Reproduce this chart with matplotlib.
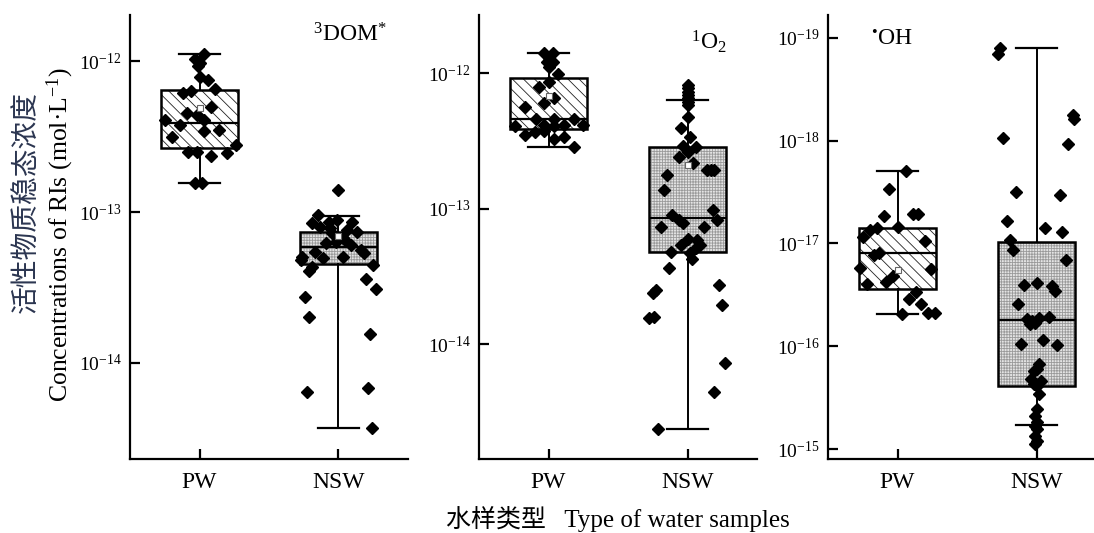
import numpy as np
import matplotlib
matplotlib.use("Agg")
import matplotlib.pyplot as plt
from matplotlib.patches import PathPatch
from matplotlib.ticker import FuncFormatter, NullLocator

plt.rcParams['font.family'] = ['Liberation Serif', 'Noto Sans CJK SC']
plt.rcParams['mathtext.fontset'] = 'custom'
plt.rcParams['mathtext.rm'] = 'Liberation Serif'
plt.rcParams['mathtext.it'] = 'Liberation Serif:italic'
plt.rcParams['hatch.linewidth'] = 0.6

categories = ["PW", "NSW"]

# ---- 3DOM* (mol/L), with horizontal jitter
pw_dom = [1.11e-12, 1.03e-12, 9.75e-13, 9.27e-13, 7.87e-13, 7.48e-13, 6.11e-13,
          6.32e-13, 6.49e-13, 4.93e-13, 4.51e-13, 4.39e-13, 4.06e-13, 3.77e-13,
          4.06e-13, 3.16e-13, 3.52e-13, 3.45e-13, 2.78e-13, 2.51e-13, 2.51e-13,
          2.36e-13, 2.47e-13, 1.56e-13, 1.56e-13]
pw_dom_dx = [0.03, -0.03, 0.0, -0.01, 0.0, 0.06, -0.12, -0.06, 0.115, 0.08, -0.09,
             -0.02, 0.03, -0.14, -0.25, -0.2, 0.14, 0.03, 0.26, -0.08, -0.02, 0.08,
             0.2, -0.03, 0.02]
nsw_dom = [1.40e-13, 9.55e-14, 8.41e-14, 8.0e-14, 8.63e-14, 8.85e-14, 8.63e-14,
           7.6e-14, 7.41e-14, 7.23e-14, 6.35e-14, 6.2e-14, 6.7e-14, 6.04e-14,
           5.46e-14, 5.6e-14, 5.32e-14, 5.06e-14, 4.93e-14, 5.06e-14, 4.81e-14,
           4.35e-14, 4.09e-14, 4.46e-14, 3.58e-14, 3.08e-14, 2.75e-14, 2.03e-14,
           1.56e-14, 6.45e-15, 6.79e-15, 3.70e-15, 7.8e-14, 6.5e-14]
nsw_dom_dx = [0.0, -0.15, -0.19, -0.13, -0.07, -0.01, 0.10, 0.06, 0.13, -0.05, -0.02,
              -0.09, 0.03, 0.09, -0.17, 0.16, 0.18, 0.03, -0.11, -0.26, -0.27, -0.19,
              -0.21, 0.25, 0.20, 0.27, -0.24, -0.21, 0.23, -0.23, 0.21, 0.24, -0.06,
              0.05]
# box stats: whislo, q1, med, q3, whishi, mean
pw_dom_box = [1.56e-13, 2.65e-13, 3.89e-13, 6.42e-13, 1.11e-12, 4.89e-13]
nsw_dom_box = [3.70e-15, 4.51e-14, 5.89e-14, 7.41e-14, 9.44e-14, 6.9e-14]

# ---- 1O2
pw_o2 = [1.41e-12, 1.41e-12, 1.28e-12, 1.21e-12, 1.21e-12, 1.11e-12, 9.83e-13,
         8.63e-13, 7.92e-13, 6.58e-13, 6.04e-13, 5.64e-13, 4.55e-13, 4.55e-13,
         4.55e-13, 4.06e-13, 4.13e-13, 4.06e-13, 4.13e-13, 4.13e-13, 3.48e-13,
         3.69e-13, 3.75e-13, 3.24e-13, 3.35e-13, 2.86e-13]
pw_o2_dx = [-0.03, 0.03, 0.0, -0.01, 0.03, 0.0, 0.07, 0.0, -0.07, 0.04, -0.03, -0.17,
            -0.09, 0.04, 0.18, -0.24, -0.03, 0.04, 0.11, 0.25, -0.17, -0.10, -0.03,
            0.04, 0.11, 0.18]
nsw_o2 = [8.15e-13, 7.71e-13, 7.28e-13, 6.89e-13, 6.50e-13, 6.14e-13, 5.81e-13,
          4.76e-13, 3.91e-13, 3.39e-13, 2.89e-13, 2.86e-13, 2.62e-13, 2.39e-13,
          2.18e-13, 1.92e-13, 1.92e-13, 1.92e-13, 1.77e-13, 1.37e-13, 9.75e-14,
          8.22e-14, 8.95e-14, 8.22e-14, 7.78e-14, 7.34e-14, 7.26e-14, 5.93e-14,
          5.86e-14, 5.38e-14, 5.38e-14, 5.08e-14, 4.80e-14, 4.67e-14, 4.28e-14,
          3.62e-14, 2.51e-14, 2.37e-14, 2.72e-14, 1.55e-14, 1.59e-14, 1.94e-14,
          7.28e-15, 4.41e-15, 2.36e-15]
nsw_o2_dx = [0.0, 0.0, 0.0, 0.0, 0.0, 0.0, 0.0, 0.0, -0.05, 0.02, -0.03, 0.06, 0.0,
             -0.06, 0.04, 0.14, 0.17, 0.19, -0.15, -0.17, 0.18, 0.21, -0.11, -0.06,
             -0.03, -0.19, 0.12, 0.0, 0.07, -0.05, 0.09, 0.06, -0.12, 0.02, 0.03,
             -0.13, -0.23, -0.25, 0.23, -0.28, -0.24, 0.25, 0.27, 0.19, -0.21]
pw_o2_box = [2.86e-13, 3.84e-13, 4.55e-13, 9.14e-13, 1.41e-12, 6.76e-13]
nsw_o2_box = [2.36e-15, 4.80e-14, 8.47e-14, 2.86e-13, 6.33e-13, 2.09e-13]

# ---- •OH
pw_oh = [1.95e-18, 2.94e-18, 5.43e-18, 5.12e-18, 5.12e-18, 6.89e-18, 7.05e-18,
         7.31e-18, 8.61e-18, 9.51e-18, 1.28e-17, 1.23e-17, 1.72e-17, 1.79e-17,
         2.07e-17, 2.37e-17, 2.50e-17, 2.97e-17, 3.50e-17, 3.91e-17, 4.89e-17,
         4.78e-17, 4.71e-17]
pw_oh_dx = [0.06, -0.06, -0.10, 0.11, 0.15, 0.0, -0.15, -0.20, -0.25, 0.20, -0.17,
            -0.13, -0.27, 0.24, -0.03, -0.08, -0.22, 0.13, 0.08, 0.17, 0.03, 0.22, 0.27]
nsw_oh = [1.26e-19, 1.43e-19, 5.6e-19, 6.15e-19, 9.42e-19, 1.07e-18, 3.15e-18,
          3.34e-18, 6.07e-18, 7.14e-18, 7.76e-18, 9.29e-18, 1.16e-17, 1.45e-17,
          2.56e-17, 2.41e-17, 2.60e-17, 2.90e-17, 3.91e-17, 5.47e-17, 5.68e-17,
          5.26e-17, 5.15e-17, 6.11e-17, 5.89e-17, 9.57e-17, 8.75e-17, 9.77e-17,
          1.50e-16, 1.65e-16, 1.74e-16, 2.06e-16, 2.17e-16, 2.34e-16, 2.43e-16,
          2.92e-16, 4.09e-16, 4.75e-16, 5.51e-16, 5.94e-16, 6.40e-16, 7.43e-16,
          8.30e-16, 8.93e-16]
nsw_oh_dx = [-0.26, -0.28, 0.26, 0.27, -0.24, 0.23, -0.15, 0.17, -0.21, 0.06, 0.18,
             -0.19, -0.17, 0.21, -0.09, 0.0, 0.11, 0.13, -0.13, -0.07, -0.03, 0.02,
             0.09, -0.05, -0.01, -0.11, 0.05, 0.15, 0.02, 0.0, -0.02, -0.04, 0.03,
             -0.02, 0.0, 0.02, 0.0, -0.01, 0.0, -0.01, 0.0, -0.01, 0.0, -0.01]
pw_oh_box = [1.95e-18, 7.05e-18, 1.25e-17, 2.75e-17, 4.89e-17, 1.83e-17]
nsw_oh_box = [1.26e-19, 9.63e-18, 5.56e-17, 2.43e-16, 5.85e-16, None]

panels = [
    dict(pw=(pw_dom, pw_dom_dx, pw_dom_box), nsw=(nsw_dom, nsw_dom_dx, nsw_dom_box),
         ylim=(2.31e-15, 2.02e-12), ticks=[1e-14, 1e-13, 1e-12],
         label=r'$^{3}$DOM$^{*}$', label_xy=(0.79, 0.955), left=130),
    dict(pw=(pw_o2, pw_o2_dx, pw_o2_box), nsw=(nsw_o2, nsw_o2_dx, nsw_o2_box),
         ylim=(1.42e-15, 2.68e-12), ticks=[1e-14, 1e-13, 1e-12],
         label=r'$^{1}$O$_{2}$', label_xy=(0.827, 0.94), left=479),
    dict(pw=(pw_oh, pw_oh_dx, pw_oh_box), nsw=(nsw_oh, nsw_oh_dx, nsw_oh_box),
         ylim=(1.25e-15, 5.98e-20), ticks=[1e-15, 1e-16, 1e-17, 1e-18, 1e-19],
         label=r'$^{•}$OH', label_xy=(0.23, 0.945), left=828),
]

W, H = 1094, 533
fig = plt.figure(figsize=(W / 100, H / 100), dpi=100)
fig.patch.set_facecolor('white')

box_styles = [
    dict(facecolor='white', edgecolor='#222222', hatch='\\\\\\'),
    dict(facecolor='#e4e4e4', edgecolor='#9a9a9a', hatch='++++++'),
]


def draw_box(ax, pos, box, style):
    whislo, q1, med, q3, whishi, mean = box
    st = dict(whislo=whislo, q1=q1, med=med, q3=q3, whishi=whishi, fliers=[])
    show_mean = mean is not None
    if show_mean:
        st['mean'] = mean
    art = ax.bxp([st], positions=[pos], widths=0.56, capwidths=[0.3],
                 patch_artist=True, showmeans=show_mean, manage_ticks=False,
                 boxprops=dict(linewidth=0, **style),
                 whiskerprops=dict(color='black', linewidth=1.4),
                 capprops=dict(color='black', linewidth=1.6),
                 medianprops=dict(color='black', linewidth=1.6),
                 meanprops=dict(marker='s', markersize=4.5, markerfacecolor='white',
                                markeredgecolor='#666666', markeredgewidth=0.8),
                 zorder=2)
    for b in art['boxes']:
        b.set_zorder(1)
        ax.add_patch(PathPatch(b.get_path(), fill=False, edgecolor='black',
                               linewidth=1.8, zorder=2))
    for m in art['means']:
        m.set_zorder(4)


for p in panels:
    ax = fig.add_axes([p['left'] / W, (H - 459) / H, 278 / W, 444 / H])
    ax.set_yscale('log')
    for i, key in enumerate(['pw', 'nsw']):
        vals, dx, box = p[key]
        pos = i + 1
        draw_box(ax, pos, box, box_styles[i])
        ax.plot(pos + np.asarray(dx), vals, ls='none', marker='D', markersize=6.5,
                color='black', zorder=3)
    ax.set_xlim(0.5, 2.5)
    ax.set_ylim(*p['ylim'])
    ax.set_xticks([1, 2])
    ax.set_xticklabels(categories)
    ax.set_yticks(p['ticks'])
    ax.yaxis.set_minor_locator(NullLocator())
    ax.yaxis.set_major_formatter(FuncFormatter(
        lambda v, _: r'$\mathregular{10^{%d}}$' % int(round(np.log10(v)))))
    for s in ['top', 'right']:
        ax.spines[s].set_visible(False)
    for s in ['left', 'bottom']:
        ax.spines[s].set_linewidth(1.6)
    ax.tick_params(axis='both', direction='in', length=7, width=1.6, labelsize=14)
    ax.tick_params(axis='x', pad=9, labelsize=17)
    ax.tick_params(axis='y', pad=6)
    ax.patch.set_alpha(0)
    ax.text(*p['label_xy'], p['label'], transform=ax.transAxes, ha='center',
            va='center', fontsize=17)

fig.text(27 / W, 1 - 202 / H, '活性物质稳态浓度', rotation=90, ha='center',
         va='center', fontsize=20, color='#2b3550')
fig.text(60 / W, 1 - 235 / H, 'Concentrations of RIs (mol·L$^{-1}$)', rotation=90,
         ha='center', va='center', fontsize=18.5)
fig.text(618 / W, 1 - 519 / H, '水样类型   Type of water samples', ha='center',
         va='center', fontsize=18)

fig.savefig('out.png', dpi=100)
